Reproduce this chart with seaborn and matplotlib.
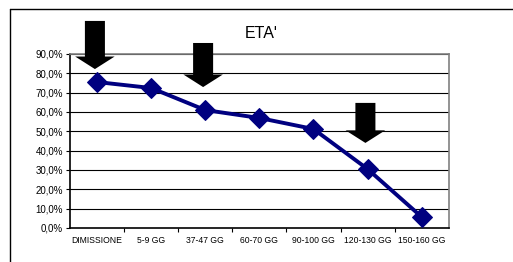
import seaborn as sns
import matplotlib.pyplot as plt
import pandas as pd
from matplotlib.patches import FancyArrow
from matplotlib.lines import Line2D

categories = ['DIMISSIONE', '5-9 GG', '37-47 GG', '60-70 GG', '90-100 GG', '120-130 GG', '150-160 GG']
values = [0.755, 0.724, 0.61, 0.569, 0.512, 0.305, 0.057]
yticks = [0.0, 0.1, 0.2, 0.3, 0.4, 0.5, 0.6, 0.7, 0.8, 0.9]
arrow_cats = ['DIMISSIONE', '37-47 GG', '120-130 GG']
arrow_top = [1.071, 0.957, 0.647]
arrow_tip = [0.822, 0.729, 0.44]

df = pd.DataFrame({'fase': categories, 'eta': values})

sns.set_style('white')
plt.rcParams['font.family'] = ['Liberation Sans', 'DejaVu Sans']
plt.rcParams['text.color'] = 'black'
plt.rcParams['xtick.color'] = 'black'
plt.rcParams['ytick.color'] = 'black'

fig = plt.figure(figsize=(5.13, 2.62), dpi=100)
ax = fig.add_axes([0.1365, 0.1298, 0.7382, 0.6641])

for y in yticks[1:]:
    ax.axhline(y, color='black', lw=0.8, zorder=1)

sns.lineplot(data=df, x='fase', y='eta', sort=False, color='#000080', lw=2.8,
             marker='D', markersize=10, markeredgecolor='#000080', ax=ax, zorder=3)

ax.set_xlim(-0.5, len(categories) - 0.5)
ax.set_ylim(0, 0.9)
ax.set_yticks(yticks)
ax.set_yticklabels([('%.1f%%' % (t * 100)).replace('.', ',') for t in yticks], fontsize=7)
ax.set_xticks(range(len(categories)))
ax.set_xticklabels(categories, fontsize=6.2)
ax.set_xticks([i + 0.5 for i in range(len(categories) - 1)], minor=True)
ax.tick_params(axis='x', which='major', length=0, pad=6)
ax.tick_params(axis='x', which='minor', length=3, width=0.8, color='black', bottom=True)
ax.tick_params(axis='y', length=3, width=0.8, color='black', left=True, pad=2)
ax.set_xlabel('')
ax.set_ylabel('')

for s in ['left', 'bottom']:
    ax.spines[s].set_color('black')
    ax.spines[s].set_linewidth(1.2)
for s in ['top', 'right']:
    ax.spines[s].set_color('#808080')
    ax.spines[s].set_linewidth(1.2)

# black arrows pointing down
for cat, top, tip in zip(arrow_cats, arrow_top, arrow_tip):
    x = categories.index(cat) - 0.04
    ax.add_patch(FancyArrow(x, top, 0, tip - top, width=0.37, head_width=0.73,
                            head_length=0.065, length_includes_head=True,
                            color='black', lw=0, clip_on=False, zorder=4))

fig.text(0.51, 0.873, "ETA'", fontsize=11.5, ha='center', va='center')

# outer chart frame
fig.add_artist(Line2D([0.0195, 1], [0.9656, 0.9656], color='black', lw=1))
fig.add_artist(Line2D([0.0195, 0.0195], [0, 0.9656], color='black', lw=1))

fig.savefig('out.png', dpi=100)
